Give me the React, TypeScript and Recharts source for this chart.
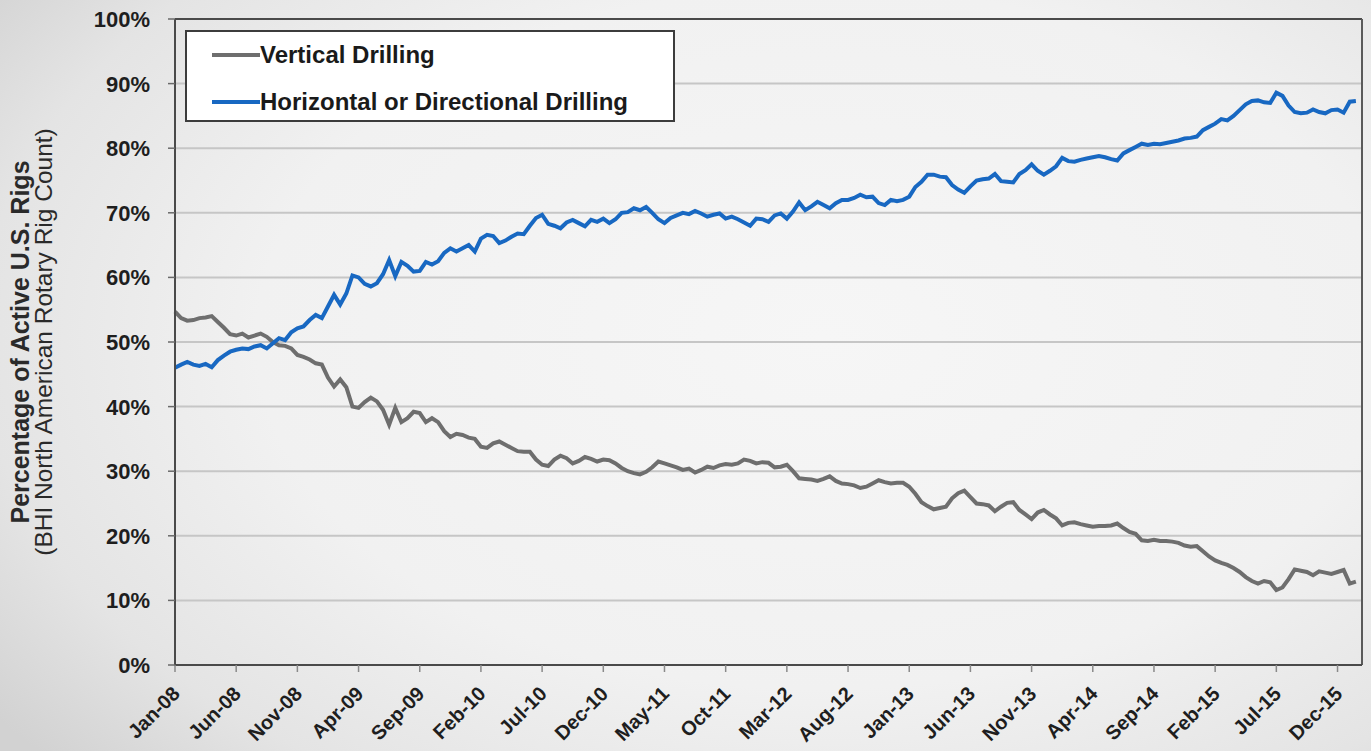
import React from 'react';
import { LineChart, Line, XAxis, YAxis, CartesianGrid, ReferenceLine, Legend, Label } from 'recharts';

// Share of active U.S. rigs (%), sampled every half month starting Jan-08
const vertical = [
  54.7, 53.7, 53.3, 53.4, 53.7, 53.8, 54.0, 53.1, 52.2, 51.2,
  51.0, 51.3, 50.7, 51.0, 51.3, 50.8, 50.0, 49.5, 49.4, 49.0,
  48.0, 47.7, 47.3, 46.7, 46.5, 44.5, 43.1, 44.2, 43.0, 40.0,
  39.8, 40.7, 41.4, 40.8, 39.5, 37.2, 39.8, 37.6, 38.2, 39.2,
  39.0, 37.6, 38.2, 37.6, 36.2, 35.3, 35.8, 35.6, 35.2, 35.0,
  33.8, 33.6, 34.3, 34.6, 34.1, 33.6, 33.1, 33.0, 33.0, 31.8,
  31.0, 30.8, 31.8, 32.4, 32.0, 31.2, 31.6, 32.2, 31.9, 31.5,
  31.8, 31.7, 31.2, 30.5, 30.0, 29.7, 29.5, 29.9, 30.6, 31.5,
  31.2, 30.9, 30.6, 30.2, 30.4, 29.8, 30.2, 30.7, 30.5, 30.9,
  31.1, 31.0, 31.2, 31.8, 31.6, 31.2, 31.4, 31.3, 30.6, 30.7,
  31.0, 30.0, 28.9, 28.8, 28.7, 28.5, 28.8, 29.2, 28.5, 28.1,
  28.0, 27.8, 27.4, 27.6, 28.1, 28.6, 28.3, 28.1, 28.2, 28.2,
  27.6, 26.5, 25.2, 24.6, 24.1, 24.3, 24.5, 25.8, 26.6, 27.0,
  26.0, 25.0, 24.9, 24.7, 23.8, 24.5, 25.1, 25.2, 24.0, 23.3,
  22.6, 23.6, 24.0, 23.3, 22.7, 21.6, 22.0, 22.1, 21.8, 21.6,
  21.4, 21.5, 21.5, 21.6, 21.9, 21.2, 20.6, 20.3, 19.3, 19.2,
  19.4, 19.2, 19.2, 19.1, 18.9, 18.5, 18.3, 18.4, 17.6, 16.8,
  16.2, 15.8, 15.5, 15.0, 14.4, 13.6, 13.0, 12.6, 13.0, 12.8,
  11.6, 12.0, 13.3, 14.8, 14.6, 14.4, 13.9, 14.5, 14.3, 14.1,
  14.4, 14.7, 12.6, 12.9,
];

const horizontal = [
  46.0, 46.5, 46.9, 46.5, 46.3, 46.6, 46.1, 47.2, 47.9, 48.5,
  48.8, 49.0, 48.9, 49.3, 49.5, 49.0, 49.8, 50.6, 50.3, 51.5,
  52.1, 52.4, 53.4, 54.2, 53.7, 55.5, 57.3, 55.8, 57.5, 60.3,
  60.0, 59.0, 58.6, 59.1, 60.5, 62.7, 60.2, 62.4, 61.8, 60.9,
  61.0, 62.4, 62.0, 62.5, 63.8, 64.5, 64.0, 64.5, 65.0, 64.0,
  66.0, 66.6, 66.4, 65.3, 65.7, 66.3, 66.8, 66.7, 68.0, 69.2,
  69.7, 68.3, 68.0, 67.6, 68.5, 68.9, 68.4, 67.9, 68.9, 68.6,
  69.1, 68.4, 69.0, 70.0, 70.1, 70.7, 70.4, 70.9, 70.0, 69.0,
  68.4, 69.2, 69.6, 70.0, 69.8, 70.3, 69.9, 69.4, 69.7, 69.9,
  69.1, 69.4, 69.0, 68.5, 68.0, 69.1, 69.0, 68.6, 69.6, 69.9,
  69.1, 70.2, 71.6, 70.4, 71.0, 71.7, 71.2, 70.7, 71.5, 72.0,
  72.0, 72.3, 72.8, 72.4, 72.5, 71.5, 71.2, 72.0, 71.8, 72.0,
  72.5, 74.0, 74.8, 75.9, 75.9, 75.6, 75.5, 74.3, 73.6, 73.1,
  74.1, 75.0, 75.2, 75.3, 76.0, 74.9, 74.8, 74.7, 76.0, 76.6,
  77.5, 76.5, 75.9, 76.5, 77.2, 78.5, 78.0, 77.9, 78.2, 78.4,
  78.6, 78.8, 78.6, 78.3, 78.1, 79.2, 79.7, 80.2, 80.7, 80.5,
  80.7, 80.6, 80.8, 81.0, 81.2, 81.5, 81.6, 81.8, 82.8, 83.3,
  83.8, 84.5, 84.3, 85.0, 85.9, 86.8, 87.3, 87.4, 87.1, 87.0,
  88.6, 88.1, 86.6, 85.6, 85.4, 85.5, 86.0, 85.6, 85.4, 85.9,
  86.0, 85.5, 87.2, 87.3,
];

const tickMonths = [0, 5, 10, 15, 20, 25, 30, 35, 40, 45, 50, 55, 60, 65, 70, 75, 80, 85, 90, 95];
const tickLabels = [
  'Jan-08', 'Jun-08', 'Nov-08', 'Apr-09', 'Sep-09', 'Feb-10', 'Jul-10', 'Dec-10', 'May-11', 'Oct-11',
  'Mar-12', 'Aug-12', 'Jan-13', 'Jun-13', 'Nov-13', 'Apr-14', 'Sep-14', 'Feb-15', 'Jul-15', 'Dec-15',
];
const yTicks = [0, 10, 20, 30, 40, 50, 60, 70, 80, 90, 100];
const seriesNames = ['Vertical Drilling', 'Horizontal or Directional Drilling'];
const seriesColors = ['#6e6e6e', '#1868c2'];
const xEnd = 97;

const data = vertical.map((v, i) => ({ t: i / 2, vertical: v, horizontal: horizontal[i] }));

const FONT = '"Liberation Sans", Arial, Helvetica, sans-serif';

const YTick = (props: any) => {
  const { x, y, payload } = props;
  return (
    <text x={x} y={y} dy={8} textAnchor="end" fontFamily={FONT} fontWeight={700} fontSize={22} fill="#1e1e1e">
      {payload.value}%
    </text>
  );
};

const XTick = (props: any) => {
  const { x, y, payload } = props;
  const i = tickMonths.indexOf(payload.value);
  const ax = x + 6;
  const ay = y + 19;
  return (
    <text x={ax} y={ay} textAnchor="end" transform={`rotate(-45, ${ax}, ${ay})`} fontFamily={FONT} fontWeight={700} fontSize={20} fill="#1e1e1e">
      {tickLabels[i]}
    </text>
  );
};

const AxisTitle = (props: any) => {
  const vb = props.viewBox || { x: 0, y: 19, width: 175, height: 646 };
  const cy = vb.y + vb.height / 2;
  const x1 = vb.x + 29;
  const x2 = vb.x + 52;
  return (
    <g>
      <text x={x1} y={cy} transform={`rotate(-90, ${x1}, ${cy})`} textAnchor="middle" fontFamily={FONT} fontWeight={700} fontSize={25} fill="#2a2a2a">
        Percentage of Active U.S. Rigs
      </text>
      <text x={x2} y={cy} transform={`rotate(-90, ${x2}, ${cy})`} textAnchor="middle" fontFamily={FONT} fontWeight={400} fontSize={24.5} fill="#2a2a2a">
        (BHI North American Rotary Rig Count)
      </text>
    </g>
  );
};

const LegendBox = (props: any) => {
  const payload = [...(props.payload || [])].sort(
    (a: any, b: any) => seriesNames.indexOf(a.value) - seriesNames.indexOf(b.value)
  );
  return (
    <div
      style={{
        position: 'relative',
        boxSizing: 'border-box',
        width: 490,
        height: 92,
        border: '2px solid #3c3c3c',
        background: '#ffffff',
        fontFamily: FONT,
      }}
    >
      {payload.map((p: any, i: number) => (
        <div key={i} style={{ position: 'absolute', left: 0, top: 8 + i * 47, height: 30, width: '100%' }}>
          <div style={{ position: 'absolute', left: 25, top: 13, width: 48, height: 4, background: p.color }} />
          <div
            style={{
              position: 'absolute',
              left: 73,
              top: 0,
              lineHeight: '30px',
              fontSize: 24,
              fontWeight: 700,
              color: '#1a1a1a',
              whiteSpace: 'nowrap',
            }}
          >
            {p.value}
          </div>
        </div>
      ))}
    </div>
  );
};

export default function App() {
  return (
    <div
      style={{
        position: 'absolute',
        left: 0,
        top: 0,
        width: 1371,
        height: 751,
        overflow: 'hidden',
        background:
          'radial-gradient(ellipse 75% 85% at 60% 45%, #f6f6f6 0%, #f1f1f1 55%, #e4e4e4 82%, #d2d2d2 100%)',
      }}
    >
      <LineChart width={1371} height={751} data={data} margin={{ top: 19, right: 9, left: 0, bottom: 26 }}>
        <CartesianGrid horizontal vertical={false} stroke="#c6c6c6" strokeWidth={2} />
        <XAxis
          dataKey="t"
          type="number"
          domain={[0, xEnd]}
          ticks={tickMonths}
          interval={0}
          height={60}
          tick={<XTick />}
          tickSize={7}
          tickMargin={4}
          axisLine={{ stroke: '#4a4a4a', strokeWidth: 2 }}
          tickLine={{ stroke: '#8a8a8a', strokeWidth: 1.5 }}
        />
        <YAxis
          type="number"
          domain={[0, 100]}
          ticks={yTicks}
          interval={0}
          width={175}
          tick={<YTick />}
          tickSize={7}
          tickMargin={18}
          axisLine={{ stroke: '#4a4a4a', strokeWidth: 2 }}
          tickLine={{ stroke: '#6a6a6a', strokeWidth: 1.5 }}
        >
          <Label content={<AxisTitle />} />
        </YAxis>
        <ReferenceLine y={100} stroke="#4a4a4a" strokeWidth={2} />
        <ReferenceLine x={xEnd} stroke="#5a5a5a" strokeWidth={2} />
        <Legend
          layout="horizontal"
          verticalAlign="middle"
          align="center"
          content={<LegendBox />}
          wrapperStyle={{ position: 'absolute', left: 185, top: 30, width: 490, height: 92 }}
        />
        <Line
          type="linear"
          dataKey="vertical"
          name={seriesNames[0]}
          stroke={seriesColors[0]}
          strokeWidth={4}
          dot={false}
          isAnimationActive={false}
        />
        <Line
          type="linear"
          dataKey="horizontal"
          name={seriesNames[1]}
          stroke={seriesColors[1]}
          strokeWidth={4}
          dot={false}
          isAnimationActive={false}
        />
      </LineChart>
    </div>
  );
}
